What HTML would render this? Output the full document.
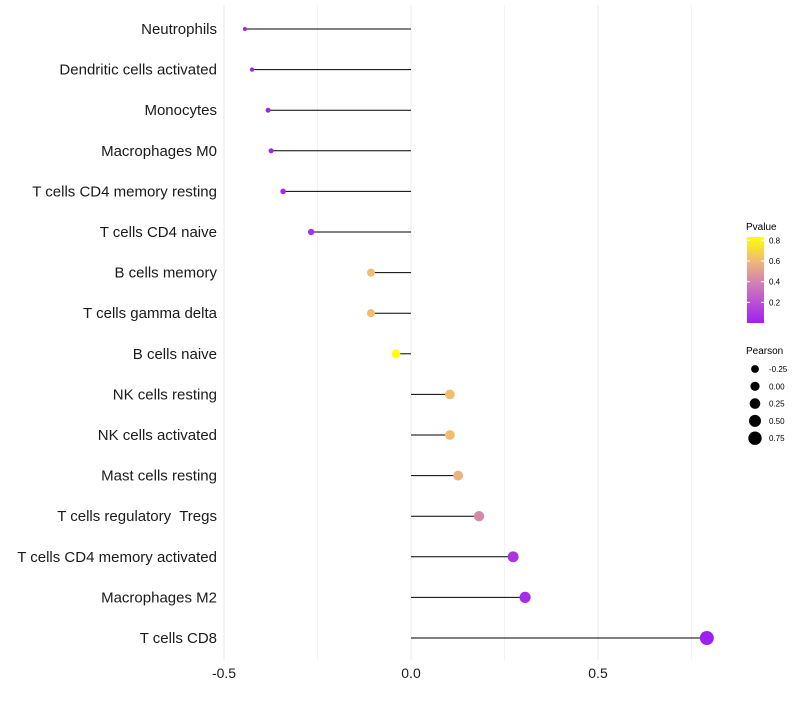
<!DOCTYPE html>
<html><head><meta charset="utf-8"><style>
body{margin:0;background:#fff;font-family:"Liberation Sans",sans-serif}
text{white-space:pre}
</style></head><body>
<svg id="chart" width="800" height="700" xmlns="http://www.w3.org/2000/svg" font-family="Liberation Sans, sans-serif">
<defs><linearGradient id="pg" x1="0" y1="1" x2="0" y2="0">
<stop offset="0" stop-color="#a020f0"/><stop offset="0.45" stop-color="#d07cb8"/><stop offset="0.72" stop-color="#f0b878"/><stop offset="1" stop-color="#ffff00"/></linearGradient></defs>
<g id="grid"></g><g id="marks"></g><g id="labels"></g><g id="xticks"></g><g id="legend"></g>
</svg>
<script>
const categories=["Neutrophils","Dendritic cells activated","Monocytes","Macrophages M0","T cells CD4 memory resting","T cells CD4 naive","B cells memory","T cells gamma delta","B cells naive","NK cells resting","NK cells activated","Mast cells resting","T cells regulatory  Tregs","T cells CD4 memory activated","Macrophages M2","T cells CD8"];
const pearson=[-0.444,-0.425,-0.382,-0.374,-0.342,-0.267,-0.107,-0.107,-0.04,0.104,0.104,0.126,0.182,0.273,0.305,0.791];
const pvalue=[0.01,0.01,0.02,0.02,0.03,0.08,0.62,0.62,0.84,0.62,0.62,0.58,0.42,0.08,0.05,0.0];
const xTicks=[-0.5,0,0.5];
const xTickLabels=["-0.5","0.0","0.5"];
const gridVals=[-0.5,-0.25,0,0.25,0.5,0.75];
const legendP=[0.2,0.4,0.6,0.8];
const legendS=[-0.25,0,0.25,0.5,0.75];

const NS="http://www.w3.org/2000/svg";
const x=v=>411+v*374;
const y=i=>29+i*40.6;
const r=v=>Math.sqrt(4+36.4*Math.max(0,v+0.444));
const pc=p=>y0(p);
function lerp(a,b,t){return a.map((c,i)=>Math.round(c+(b[i]-c)*t));}
function y0(p){const stops=[[0,[160,32,240]],[0.37,[208,124,184]],[0.6,[240,184,120]],[0.83,[255,255,0]]];
 p=Math.max(0,Math.min(0.83,p));for(let i=0;i<stops.length-1;i++){if(p<=stops[i+1][0]){const c=lerp(stops[i][1],stops[i+1][1],(p-stops[i][0])/(stops[i+1][0]-stops[i][0]));return `rgb(${c})`;}}return "#ff0";}
function mk(t,a,p){const e=document.createElementNS(NS,t);for(const k in a)e.setAttribute(k,a[k]);p.appendChild(e);return e;}
const G=document.getElementById('grid'),M=document.getElementById('marks'),L=document.getElementById('labels'),X=document.getElementById('xticks'),LG=document.getElementById('legend');
gridVals.forEach(v=>{const l=mk('line',{x1:x(v),x2:x(v),y1:5,y2:660,stroke:'#ebebeb','stroke-width':v*4%2==0?1.1:0.6},G);

});
categories.forEach((c,i)=>{
 const s=mk('line',{x1:x(0),x2:x(pearson[i]),y1:y(i),y2:y(i),stroke:'#000','stroke-width':1},M);
 
 
 const d=mk('circle',{cx:x(pearson[i]),cy:y(i),r:r(pearson[i]),fill:pc(pvalue[i])},M);
 
 
 const t=mk('text',{x:217,y:y(i)+5,'text-anchor':'end','font-size':15,fill:'#1a1a1a'},L);t.textContent=c;
 
 
});
xTicks.forEach((v,i)=>{const t=mk('text',{x:x(v),y:678,'text-anchor':'middle','font-size':14,fill:'#1a1a1a'},X);t.textContent=xTickLabels[i];

});
let t=mk('text',{x:746,y:230,'font-size':10},LG);t.textContent="Pvalue";


const bar=mk('rect',{x:747,y:237,width:17,height:86,fill:'url(#pg)'},LG);


const py=p=>323-p*103.3;
legendP.forEach(p=>{mk('line',{x1:747,x2:750,y1:py(p),y2:py(p),stroke:'#fff'},LG);mk('line',{x1:761,x2:764,y1:py(p),y2:py(p),stroke:'#fff'},LG);
 const tt=mk('text',{x:769,y:py(p)+3,'font-size':8},LG);tt.textContent=p.toFixed(1);
 
 });
t=mk('text',{x:746,y:354,'font-size':10},LG);t.textContent="Pearson";


const lr=[3.9,4.6,5.3,6.0,6.7];
legendS.forEach((v,i)=>{const c=mk('circle',{cx:755,cy:369+i*17.3,r:lr[i],fill:'#000'},LG);
 
 
 const tt=mk('text',{x:769,y:372+i*17.3,'font-size':8},LG);tt.textContent=v.toFixed(2);
 
 });
</script>
</body></html>
